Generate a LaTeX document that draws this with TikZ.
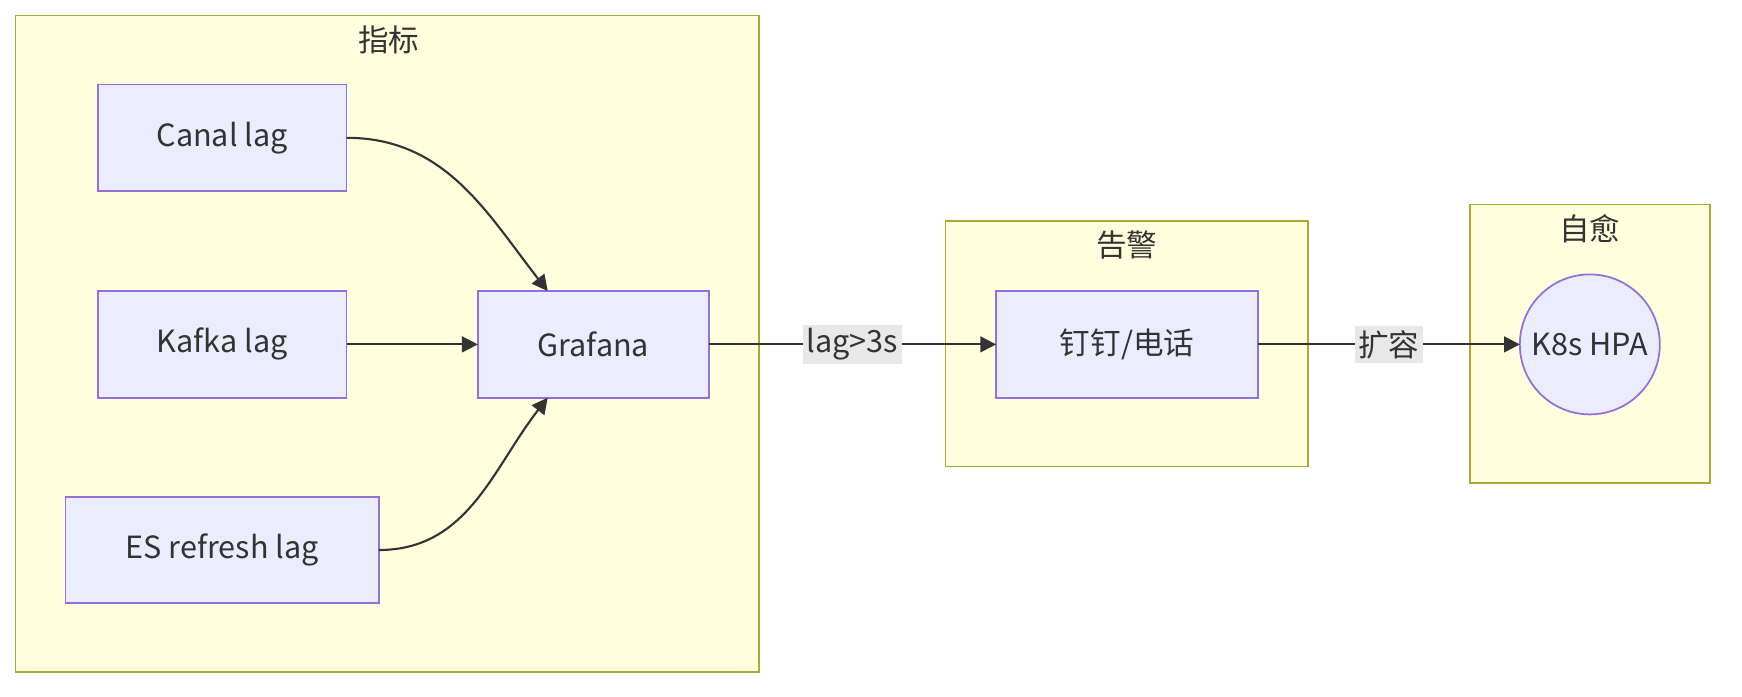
\documentclass[tikz,border=0pt]{standalone}
\usepackage{fontspec}
\setmainfont{Noto Sans CJK SC}
\usetikzlibrary{arrows.meta, positioning}

\definecolor{nodefill}{HTML}{ECECFF}
\definecolor{nodeline}{HTML}{9370DB}
\definecolor{clufill}{HTML}{FFFFDE}
\definecolor{cluline}{HTML}{AAAA33}
\definecolor{edgeline}{HTML}{333333}
\definecolor{lblfill}{HTML}{E8E8E8}

\begin{document}
\begin{tikzpicture}[
  font=\fontsize{8.7pt}{10.5pt}\selectfont, text=edgeline,
  clu/.style={draw=cluline, fill=clufill, line width=0.5pt,
              inner sep=0pt, outer sep=0pt},
  ttl/.style={inner sep=0pt},
  box/.style={draw=nodeline, fill=nodefill, line width=0.5pt,
              minimum height=1.067cm, inner sep=0pt, outer sep=0pt},
  rnd/.style={box, circle, minimum size=1.4cm},
  lbl/.style={fill=lblfill, inner sep=1pt, minimum height=0.378cm},
  arr/.style={-{Triangle[length=4.5pt, width=4.5pt]}, draw=edgeline,
              line width=0.6pt}
]
\useasboundingbox (0,0) rectangle (17.42,-6.96);

\node[clu, minimum width=7.432cm, minimum height=6.566cm]
  (metrics) at (3.872,-3.439) {};
\node[ttl] (metricsT) at (3.888,-0.40) {指标};
\node[clu, minimum width=3.622cm, minimum height=2.456cm]
  (alert) at (11.266,-3.438) {};
\node[ttl] (alertT) at (11.266,-2.45) {告警};
\node[clu, minimum width=2.399cm, minimum height=2.789cm]
  (heal) at (15.898,-3.4385) {};
\node[ttl] (healT) at (15.898,-2.29) {自愈};

\node[box, minimum width=2.488cm] (canal) at (2.222,-1.378) {Canal lag};
\node[box, minimum width=2.488cm] (kafka) at (2.222,-3.444) {Kafka lag};
\node[box, minimum width=3.133cm] (es) at (2.222,-5.50) {ES refresh lag};
\node[box, minimum width=2.31cm] (grafana) at (5.933,-3.444) {Grafana};
\node[box, minimum width=2.62cm] (ding) at (11.271,-3.444) {钉钉/电话};
\node[rnd] (hpa) at (15.898,-3.444) {K8s HPA};

\draw[arr] (canal.east) to[out=0, in=128]
  ([xshift=-0.456cm]grafana.north);
\draw[arr] (kafka) -- (grafana);
\draw[arr] (es.east) to[out=0, in=232]
  ([xshift=-0.456cm]grafana.south);
\draw[arr] (grafana) -- node[lbl] {lag>3s} (ding);
\draw[arr] (ding) -- node[lbl] {扩容} (hpa);

\end{tikzpicture}
\end{document}
